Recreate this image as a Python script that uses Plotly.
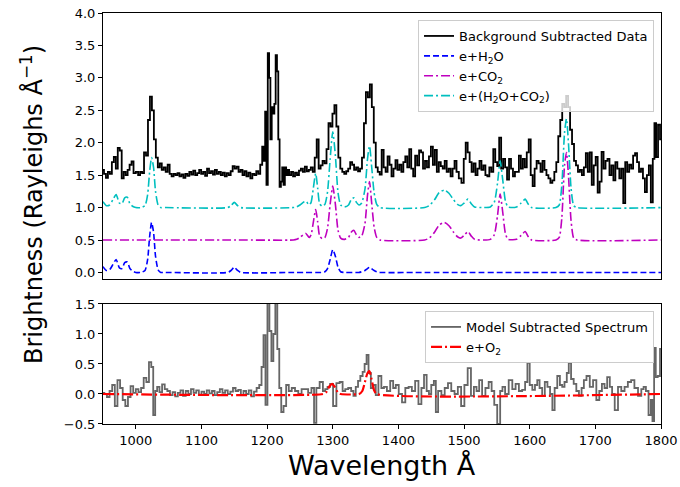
import plotly.graph_objects as go

# ---------------- data ----------------
DATA_WL = [
    950, 953, 956, 959, 962, 965, 968, 971, 974, 977,
    980, 983, 986, 989, 992, 995, 998, 1002, 1005, 1008,
    1011, 1014, 1017, 1020, 1023, 1026, 1029, 1032, 1035, 1038,
    1041, 1044, 1047, 1050, 1053, 1056, 1059, 1062, 1065, 1068,
    1071, 1074, 1077, 1080, 1083, 1086, 1089, 1092, 1095, 1098,
    1101, 1104, 1107, 1110, 1113, 1116, 1119, 1122, 1125, 1128,
    1131, 1134, 1137, 1140, 1143, 1146, 1149, 1152, 1155, 1158,
    1161, 1164, 1167, 1170, 1173, 1176, 1179, 1182, 1185, 1188,
    1191, 1194, 1196, 1198, 1200, 1202, 1204, 1206, 1208, 1210,
    1212, 1214, 1216, 1218, 1220, 1222, 1224, 1226, 1228, 1230,
    1232, 1235, 1238, 1241, 1244, 1247, 1250, 1253, 1256, 1259,
    1262, 1265, 1268, 1271, 1274, 1277, 1280, 1283, 1286, 1289,
    1292, 1295, 1298, 1301, 1304, 1307, 1310, 1313, 1316, 1319,
    1322, 1325, 1328, 1331, 1334, 1337, 1340, 1343, 1346, 1349,
    1352, 1355, 1358, 1361, 1364, 1367, 1370, 1373, 1376, 1379,
    1382, 1385, 1388, 1391, 1394, 1397, 1400, 1403, 1406, 1409,
    1412, 1415, 1418, 1421, 1424, 1427, 1430, 1433, 1436, 1439,
    1442, 1445, 1448, 1451, 1454, 1457, 1460, 1463, 1466, 1469,
    1472, 1475, 1478, 1481, 1484, 1487, 1490, 1494, 1498, 1501,
    1504, 1507, 1510, 1513, 1516, 1519, 1522, 1525, 1528, 1531,
    1534, 1537, 1540, 1543, 1546, 1549, 1552, 1555, 1558, 1561,
    1564, 1567, 1570, 1573, 1576, 1579, 1582, 1585, 1588, 1591,
    1594, 1597, 1600, 1603, 1606, 1609, 1612, 1615, 1618, 1621,
    1624, 1627, 1630, 1633, 1636, 1639, 1642, 1645, 1648, 1651,
    1654, 1657, 1660, 1663, 1666, 1669, 1672, 1675, 1678, 1681,
    1684, 1687, 1690, 1693, 1696, 1699, 1702, 1705, 1708, 1711,
    1714, 1717, 1720, 1723, 1726, 1729, 1732, 1735, 1738, 1741,
    1744, 1747, 1750, 1753, 1756, 1759, 1762, 1765, 1768, 1771,
    1774, 1777, 1780, 1783, 1786, 1789, 1791, 1794, 1797, 1800,
]
DATA_VAL = [
    1.58, 1.52, 1.46, 1.55, 1.52, 1.70, 1.78, 1.60, 1.92, 1.88,
    1.45, 1.55, 1.50, 1.58, 1.66, 1.71, 1.53, 1.55, 1.50, 1.55,
    1.53, 1.85, 1.80, 2.35, 2.71, 2.50, 2.05, 1.77, 1.62, 1.68,
    1.58, 1.62, 1.55, 1.66, 1.52, 1.48, 1.52, 1.50, 1.53, 1.48,
    1.51, 1.46, 1.52, 1.49, 1.55, 1.51, 1.57, 1.50, 1.53, 1.58,
    1.52, 1.55, 1.49, 1.60, 1.53, 1.56, 1.51, 1.58, 1.52, 1.55,
    1.50, 1.54, 1.48, 1.53, 1.50, 1.56, 1.64, 1.60, 1.63, 1.55,
    1.58, 1.50, 1.56, 1.48, 1.54, 1.45, 1.52, 1.50, 1.56, 1.52,
    1.66, 1.94, 1.72, 2.48, 1.35, 3.38, 3.00, 2.05, 2.55, 2.45,
    2.60, 3.35, 3.10, 2.05, 1.32, 1.40, 1.62, 1.35, 1.62, 1.50,
    1.58, 1.50, 1.55, 1.48, 1.54, 1.50, 1.57, 1.60, 1.55, 1.63,
    1.56, 1.58, 1.62, 1.55, 1.77, 2.05, 1.60, 1.65, 1.72, 1.68,
    1.90, 2.30, 2.25, 2.45, 2.58, 2.25, 1.77, 1.60, 1.55, 1.52,
    1.56, 1.60, 1.70, 1.66, 1.58, 1.62, 1.56, 1.60, 1.77, 2.30,
    2.78, 2.70, 2.90, 2.55, 2.00, 1.62, 1.55, 1.51, 1.89, 1.62,
    1.55, 1.79, 1.66, 1.48, 1.60, 1.73, 1.58, 1.66, 1.55, 1.70,
    1.79, 1.62, 1.90, 1.60, 1.48, 1.80, 1.65, 1.88, 1.85, 1.60,
    1.72, 1.62, 1.79, 1.94, 1.66, 1.89, 1.55, 1.70, 1.64, 1.60,
    1.72, 1.55, 1.60, 1.48, 1.60, 1.72, 1.55, 1.45, 1.38, 1.75,
    2.00, 1.85, 1.70, 1.55, 1.68, 1.50, 1.60, 1.72, 1.58, 1.65,
    1.50, 1.48, 1.62, 1.55, 1.90, 1.70, 1.64, 2.08, 1.60, 1.75,
    1.62, 1.43, 1.75, 1.60, 1.48, 1.55, 1.55, 1.80, 1.60, 1.75,
    1.62, 1.85, 2.05, 1.50, 1.33, 1.60, 1.72, 1.68, 1.55, 1.72,
    1.58, 1.50, 1.45, 1.38, 1.42, 1.55, 1.70, 2.10, 2.35, 2.60,
    2.55, 2.72, 2.55, 2.20, 1.98, 1.72, 1.65, 1.55, 1.58, 1.50,
    1.62, 1.84, 1.55, 1.85, 1.35, 1.65, 1.78, 1.23, 1.40, 1.86,
    1.60, 1.72, 1.75, 1.50, 1.65, 1.42, 1.70, 1.60, 1.45, 1.60,
    1.07, 1.70, 1.55, 1.66, 1.60, 1.80, 1.84, 1.70, 1.55, 1.60,
    1.45, 1.24, 1.50, 1.65, 1.08, 1.75, 2.30, 1.78, 2.28, 2.05,
]

RES_WL = [
    950, 954, 958, 962, 966, 970, 974, 978, 982, 986,
    990, 994, 998, 1002, 1006, 1010, 1014, 1018, 1022, 1025,
    1028, 1031, 1034, 1038, 1042, 1046, 1050, 1054, 1058, 1062,
    1066, 1070, 1074, 1078, 1082, 1086, 1090, 1094, 1098, 1102,
    1106, 1110, 1114, 1118, 1122, 1126, 1130, 1134, 1138, 1142,
    1146, 1150, 1154, 1158, 1162, 1166, 1170, 1174, 1178, 1182,
    1186, 1190, 1193, 1196, 1199, 1202, 1205, 1208, 1211, 1214,
    1217, 1220, 1223, 1227, 1231, 1235, 1240, 1245, 1250, 1255,
    1260, 1265, 1270, 1273, 1277, 1283, 1287, 1290, 1294, 1298,
    1303, 1308, 1313, 1317, 1321, 1326, 1330, 1333, 1337, 1340,
    1344, 1347, 1350, 1353, 1356, 1360, 1364, 1367, 1372, 1376,
    1380, 1385, 1390, 1394, 1398, 1403, 1408, 1413, 1418, 1423,
    1428, 1433, 1437, 1441, 1445, 1448, 1452, 1456, 1458, 1463,
    1468, 1473, 1478, 1483, 1488, 1493, 1498, 1503, 1508, 1513,
    1517, 1521, 1525, 1530, 1535, 1540, 1544, 1548, 1553, 1557,
    1560, 1565, 1571, 1576, 1581, 1586, 1591, 1595, 1598, 1602,
    1606, 1610, 1613, 1617, 1621, 1625, 1629, 1633, 1636, 1640,
    1644, 1648, 1651, 1655, 1658, 1661, 1665, 1669, 1673, 1677,
    1681, 1684, 1689, 1694, 1699, 1704, 1708, 1712, 1716, 1720,
    1724, 1727, 1732, 1737, 1742, 1747, 1752, 1757, 1762, 1768,
    1772, 1775, 1779, 1783, 1786, 1788, 1791, 1793, 1797, 1800,
]
RES_VAL = [
    0.02, 0.00, -0.05, 0.05, 0.15, -0.20, 0.23, 0.10, -0.10, -0.20,
    -0.05, 0.13, 0.02, 0.08, 0.03, 0.10, 0.27, 0.20, 0.53, 0.45,
    -0.35, 0.05, 0.12, 0.03, 0.16, 0.08, 0.05, -0.02, 0.03, -0.04,
    0.02, 0.06, -0.03, 0.05, 0.00, 0.08, 0.02, 0.06, -0.02, 0.04,
    0.00, 0.06, 0.01, 0.05, -0.02, 0.03, 0.08, 0.02, 0.06, 0.00,
    0.04, 0.10, 0.05, 0.07, -0.02, 0.05, 0.00, 0.06, -0.04, 0.04,
    0.10, 0.15, 0.45, 0.98, -0.18, 1.85, 1.05, 0.55, 1.00, 1.85,
    0.75, 0.10, -0.30, -0.20, 0.15, 0.05, 0.10, 0.05, 0.00, 0.08,
    0.08, 0.02, 0.10, -0.48, 0.10, 0.20, 0.05, 0.08, 0.12, 0.17,
    -0.20, 0.18, 0.20, 0.05, 0.08, 0.10, 0.05, -0.03, 0.12, 0.22,
    0.30, 0.37, 0.50, 0.65, 0.35, 0.10, 0.15, -0.02, 0.30, 0.10,
    0.12, 0.05, 0.22, 0.10, 0.15, 0.00, -0.14, 0.10, 0.12, 0.05,
    0.22, -0.17, 0.10, 0.32, 0.05, 0.00, 0.15, 0.22, -0.30, 0.05,
    -0.02, 0.10, 0.18, 0.05, 0.00, 0.12, -0.20, 0.15, 0.43, -0.03,
    0.12, 0.05, 0.23, -0.03, 0.10, 0.20, 0.05, -0.18, -0.50, 0.05,
    0.12, 0.00, 0.23, 0.08, 0.17, 0.05, 0.07, 0.20, 0.52, 0.15,
    0.07, 0.15, 0.23, 0.10, -0.03, 0.20, 0.12, 0.00, -0.27, 0.10,
    0.30, 0.15, 0.12, 0.20, 0.35, 0.52, 0.25, 0.17, 0.05, -0.03,
    0.10, 0.23, 0.30, 0.12, 0.23, -0.10, 0.05, 0.17, 0.10, 0.28,
    0.12, 0.00, -0.27, 0.12, 0.05, 0.12, 0.20, 0.23, 0.10, -0.03,
    0.08, 0.12, 0.05, -0.35, -0.10, -0.45, 0.77, 0.28, 0.30, 0.75,
]

MODEL_WL = [
    950, 955, 960, 965, 970, 975, 979, 983, 987, 991,
    995, 1000, 1008, 1014, 1018, 1021, 1024, 1027, 1030, 1034,
    1038, 1045, 1140, 1145, 1150, 1155, 1160, 1240, 1245, 1250,
    1255, 1259, 1264, 1267, 1270, 1274, 1277, 1280, 1284, 1288,
    1292, 1296, 1300, 1304, 1308, 1312, 1318, 1324, 1328, 1332,
    1336, 1340, 1344, 1349, 1353, 1356, 1359, 1363, 1367, 1372,
    1440, 1447, 1455, 1462, 1470, 1477, 1484, 1490, 1495, 1500,
    1506, 1511, 1516, 1530, 1540, 1546, 1551, 1555, 1559, 1563,
    1567, 1580, 1587, 1593, 1598, 1603, 1640, 1645, 1649, 1653,
    1656, 1659, 1663, 1667, 1672, 1800,
]
H2O_VAL = [
    0.09, 0.03, 0.04, 0.12, 0.20, 0.07, 0.06, 0.15, 0.16, 0.06,
    0.02, 0.00, 0.00, 0.03, 0.20, 0.55, 0.77, 0.62, 0.25, 0.04,
    0.00, 0.00, 0.00, 0.03, 0.08, 0.03, 0.00, 0.00, 0.00, 0.00,
    0.00, 0.00, 0.00, 0.00, 0.00, 0.00, 0.00, 0.00, 0.00, 0.01,
    0.06, 0.20, 0.35, 0.25, 0.08, 0.01, 0.00, 0.00, 0.00, 0.00,
    0.00, 0.00, 0.01, 0.03, 0.06, 0.08, 0.06, 0.03, 0.01, 0.00,
    0.00, 0.00, 0.00, 0.00, 0.00, 0.00, 0.00, 0.00, 0.00, 0.00,
    0.00, 0.00, 0.00, 0.00, 0.00, 0.00, 0.00, 0.00, 0.00, 0.00,
    0.00, 0.00, 0.00, 0.00, 0.00, 0.00, 0.00, 0.00, 0.00, 0.00,
    0.00, 0.00, 0.00, 0.00, 0.00, 0.00,
]
CO2_VAL = [
    0.00, 0.00, 0.00, 0.00, 0.00, 0.00, 0.00, 0.00, 0.00, 0.00,
    0.00, 0.00, 0.00, 0.00, 0.00, 0.00, 0.00, 0.00, 0.00, 0.00,
    0.00, 0.00, 0.00, 0.00, 0.00, 0.00, 0.00, 0.00, 0.01, 0.04,
    0.08, 0.10, 0.04, 0.08, 0.25, 0.47, 0.28, 0.06, 0.02, 0.04,
    0.18, 0.55, 0.83, 0.55, 0.15, 0.03, 0.01, 0.04, 0.12, 0.15,
    0.08, 0.04, 0.06, 0.25, 0.70, 0.90, 0.60, 0.20, 0.04, 0.00,
    0.00, 0.03, 0.12, 0.23, 0.27, 0.22, 0.12, 0.05, 0.03, 0.07,
    0.13, 0.06, 0.01, 0.00, 0.01, 0.08, 0.38, 0.71, 0.42, 0.10,
    0.01, 0.01, 0.07, 0.13, 0.05, 0.00, 0.00, 0.04, 0.35, 1.15,
    1.35, 1.00, 0.30, 0.03, 0.00, 0.00,
]
TOTAL_VAL = [
    0.09, 0.03, 0.04, 0.12, 0.20, 0.07, 0.06, 0.15, 0.16, 0.06,
    0.02, 0.00, 0.00, 0.03, 0.20, 0.55, 0.77, 0.62, 0.25, 0.04,
    0.00, 0.00, 0.00, 0.03, 0.08, 0.03, 0.00, 0.00, 0.01, 0.04,
    0.08, 0.10, 0.04, 0.08, 0.27, 0.53, 0.30, 0.06, 0.02, 0.05,
    0.24, 0.75, 1.17, 0.80, 0.23, 0.04, 0.01, 0.04, 0.12, 0.15,
    0.08, 0.04, 0.07, 0.28, 0.76, 0.95, 0.66, 0.23, 0.05, 0.00,
    0.00, 0.03, 0.12, 0.23, 0.27, 0.22, 0.12, 0.05, 0.03, 0.07,
    0.13, 0.06, 0.01, 0.00, 0.01, 0.08, 0.38, 0.72, 0.42, 0.10,
    0.01, 0.01, 0.07, 0.13, 0.05, 0.00, 0.00, 0.04, 0.35, 1.15,
    1.37, 1.00, 0.30, 0.03, 0.00, 0.00,
]
O2_WL = [950, 1285, 1290, 1295, 1299, 1303, 1308, 1312,
         1340, 1345, 1349, 1353, 1356, 1359, 1363, 1367, 1800]
O2_VAL = [0.00, 0.00, 0.03, 0.13, 0.17, 0.12, 0.02, 0.00,
          0.00, 0.05, 0.20, 0.35, 0.38, 0.25, 0.06, 0.00, 0.00]

H2O_OFFSET = 0.0
CO2_OFFSET = 0.5
TOTAL_OFFSET = 1.0

TOP_YTICKS = [0.0, 0.5, 1.0, 1.5, 2.0, 2.5, 3.0, 3.5, 4.0]
BOT_YTICKS = [-0.5, 0.0, 0.5, 1.0, 1.5]
XTICKS = [1000, 1100, 1200, 1300, 1400, 1500, 1600, 1700, 1800]

# ---------------- figure ----------------
FONT = "DejaVu Sans"
fig = go.Figure()

fig.add_trace(go.Scatter(x=DATA_WL, y=DATA_VAL, mode="lines", line_shape="hvh",
                         line=dict(color="black", width=1.8),
                         name="Background Subtracted Data", xaxis="x", yaxis="y", legend="legend"))
fig.add_trace(go.Scatter(x=MODEL_WL, y=[v + H2O_OFFSET for v in H2O_VAL], mode="lines",
                         line=dict(color="#0000ff", width=1.6, dash="6px,3px", shape="spline", smoothing=0.6),
                         name="e+H<sub>2</sub>O", xaxis="x", yaxis="y", legend="legend"))
fig.add_trace(go.Scatter(x=MODEL_WL, y=[v + CO2_OFFSET for v in CO2_VAL], mode="lines",
                         line=dict(color="#bf00bf", width=1.6, dash="9px,3px,2px,3px", shape="spline", smoothing=0.6),
                         name="e+CO<sub>2</sub>", xaxis="x", yaxis="y", legend="legend"))
fig.add_trace(go.Scatter(x=MODEL_WL, y=[v + TOTAL_OFFSET for v in TOTAL_VAL], mode="lines",
                         line=dict(color="#00bfbf", width=1.6, dash="9px,3px,2px,3px", shape="spline", smoothing=0.6),
                         name="e+(H<sub>2</sub>O+CO<sub>2</sub>)", xaxis="x", yaxis="y", legend="legend"))

fig.add_trace(go.Scatter(x=RES_WL, y=RES_VAL, mode="lines", line_shape="hvh",
                         line=dict(color="#666666", width=1.8),
                         name="Model Subtracted Spectrum", xaxis="x2", yaxis="y2", legend="legend2"))
fig.add_trace(go.Scatter(x=O2_WL, y=O2_VAL, mode="lines",
                         line=dict(color="#ff0000", width=2.2, dash="11px,3px,2px,3px", shape="spline", smoothing=0.6),
                         name="e+O<sub>2</sub>", xaxis="x2", yaxis="y2", legend="legend2"))

axis_common = dict(showline=True, mirror=True, linecolor="black", linewidth=1,
                   showgrid=False, zeroline=False, automargin=False,
                   tickfont=dict(family=FONT, size=13, color="black"))

fig.update_layout(
    width=680, height=487, autosize=False,
    margin=dict(l=103, r=19, t=13, b=63, autoexpand=False),
    paper_bgcolor="white", plot_bgcolor="white",
    font=dict(family=FONT, color="black"),
    xaxis=dict(domain=[0, 1], range=[950, 1800], anchor="y", showticklabels=False, ticks="",
               **axis_common),
    yaxis=dict(domain=[0.353, 1.0], range=[-0.1, 4.0], anchor="x",
               tickvals=TOP_YTICKS, ticktext=[f"{v:.1f}" for v in TOP_YTICKS],
               ticks="outside", ticklen=4, tickcolor="black", **axis_common),
    xaxis2=dict(domain=[0, 1], range=[950, 1800], anchor="y2",
                tickvals=XTICKS, ticktext=[str(v) for v in XTICKS],
                ticks="outside", ticklen=4, tickcolor="black", **axis_common),
    yaxis2=dict(domain=[0, 0.292], range=[-0.5, 1.5], anchor="x2",
                tickvals=BOT_YTICKS, ticktext=[f"{v:.1f}".replace("-", "\u2212") for v in BOT_YTICKS],
                ticks="outside", ticklen=4, tickcolor="black", **axis_common),
    legend=dict(x=0.9875, y=0.983, xanchor="right", yanchor="top",
                bgcolor="rgba(255,255,255,0.8)", bordercolor="#cccccc", borderwidth=1,
                font=dict(family=FONT, size=13, color="black"), itemwidth=30,
                tracegroupgap=0),
    legend2=dict(x=0.9875, y=0.275, xanchor="right", yanchor="top",
                 bgcolor="rgba(255,255,255,0.8)", bordercolor="#cccccc", borderwidth=1,
                 font=dict(family=FONT, size=13, color="black"), itemwidth=30,
                 tracegroupgap=0),
    annotations=[
        dict(text="Brightness (Rayleighs Å<sup>\u22121</sup>)", xref="paper", yref="paper",
             x=-0.127, y=0.533, xanchor="center", yanchor="middle", textangle=-90,
             showarrow=False, font=dict(family=FONT, size=24, color="black")),
        dict(text="Wavelength Å", xref="paper", yref="paper",
             x=0.5, y=-0.102, xanchor="center", yanchor="middle",
             showarrow=False, font=dict(family=FONT, size=27, color="black")),
    ],
)

fig.write_html("out.html", config={"displayModeBar": False},
               post_script="document.body.style.margin='0';document.body.style.overflow='hidden';")
